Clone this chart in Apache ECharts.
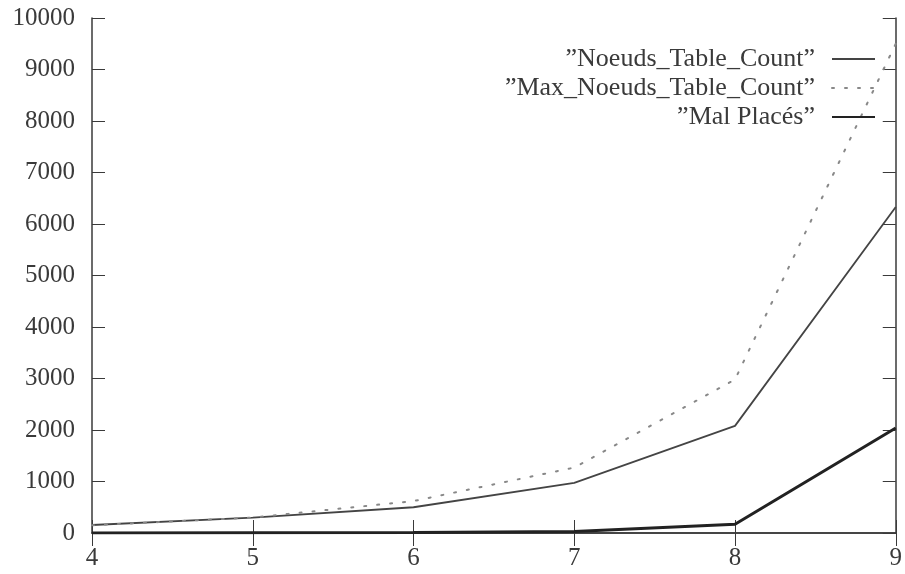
<!DOCTYPE html>
<html>
<head>
<meta charset="utf-8">
<script src="https://cdn.jsdelivr.net/npm/echarts@6/dist/echarts.min.js"></script>
<style>
  html, body { margin: 0; padding: 0; background: #fff; }
  #chart { width: 905px; height: 574px; }
</style>
</head>
<body>
<div id="chart"></div>
<script>
// Board sizes on the x axis
const sizes = [4, 5, 6, 7, 8, 9];
// Node counts per board size
const noeudsTableCount = [155, 300, 500, 975, 2080, 6330];
const maxNoeudsTableCount = [150, 300, 620, 1270, 2980, 9500];
const malPlaces = [0, 5, 10, 30, 170, 2040];

const seriesNames = ['”Noeuds_Table_Count”', '”Max_Noeuds_Table_Count”', '”Mal Placés”'];

const FONT = 'Liberation Serif';
const INK = '#3a3a3a';

const pairs = arr => sizes.map((x, i) => [x, arr[i]]);

const chart = echarts.init(document.getElementById('chart'), null, { renderer: 'canvas' });

const axisLine = { show: true, lineStyle: { color: INK, width: 1.5 } };
const tickIn = { show: true, inside: true, length: 13, lineStyle: { color: INK, width: 1 } };

chart.setOption({
  backgroundColor: '#fff',
  animation: false,
  grid: { left: 92, right: 3, top: 18, bottom: 41, containLabel: false },
  legend: {
    orient: 'vertical',
    right: 24,
    top: 41,
    align: 'right',
    itemWidth: 43,
    itemHeight: 14,
    itemGap: 3,
    selectedMode: false,
    // line-only keys: hide the marker drawn on top of the line sample
    itemStyle: { opacity: 0 },
    textStyle: {
      fontFamily: FONT, fontSize: 26, color: INK,
      lineHeight: 25, padding: [0, 12, 0, 0]
    },
    data: seriesNames
  },
  xAxis: [
    {
      type: 'value', min: 4, max: 9, interval: 1,
      axisLine, axisTick: tickIn, splitLine: { show: false },
      axisLabel: { fontFamily: FONT, fontSize: 25, color: INK, margin: 13 }
    },
    {
      type: 'value', position: 'top', min: 4, max: 9, interval: 1,
      axisLine, axisTick: tickIn, splitLine: { show: false },
      axisLabel: { show: false }
    }
  ],
  yAxis: [
    {
      type: 'value', min: 0, max: 10000, interval: 1000,
      axisLine, axisTick: tickIn, splitLine: { show: false },
      axisLabel: {
        fontFamily: FONT, fontSize: 25, color: INK, margin: 17,
        formatter: v => String(v)
      }
    },
    {
      type: 'value', position: 'right', min: 0, max: 10000, interval: 1000,
      axisLine, axisTick: tickIn, splitLine: { show: false },
      axisLabel: { show: false }
    }
  ],
  series: [
    {
      name: seriesNames[0], type: 'line', symbol: 'none',
      data: pairs(noeudsTableCount),
      lineStyle: { color: '#444', width: 1.8 },
      itemStyle: { color: '#444' }
    },
    {
      name: seriesNames[1], type: 'line', symbol: 'none',
      data: pairs(maxNoeudsTableCount),
      lineStyle: { color: '#888', width: 2, type: [2, 11], cap: 'round' },
      itemStyle: { color: '#888' }
    },
    {
      name: seriesNames[2], type: 'line', symbol: 'none',
      data: pairs(malPlaces),
      lineStyle: { color: '#222', width: 3 },
      itemStyle: { color: '#222' }
    }
  ]
});
</script>
</body>
</html>
